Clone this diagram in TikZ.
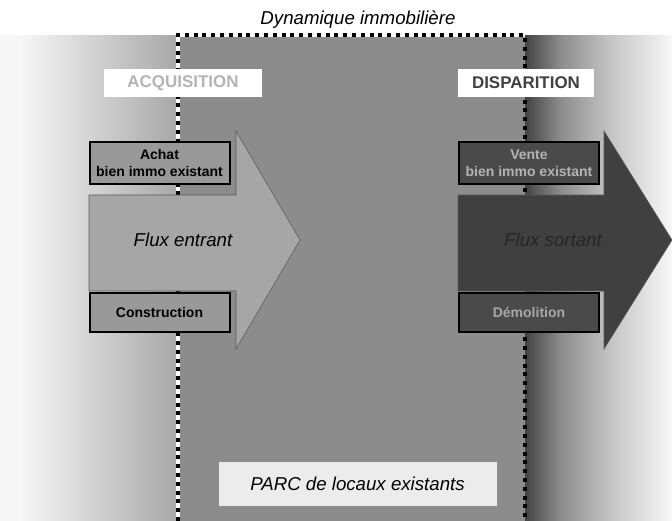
\documentclass[tikz,border=0pt]{standalone}
\usepackage{fontspec}
\setmainfont{Liberation Sans}

\definecolor{fondparc}{HTML}{8C8C8C}
\definecolor{bordgauche}{HTML}{A8A8A8}
\definecolor{borddroit}{HTML}{444444}
\definecolor{droitmilieu}{HTML}{8C8C8C}
\definecolor{droitclair}{HTML}{C4C4C4}
\definecolor{fondclair}{HTML}{F7F7F7}
\definecolor{fluxin}{HTML}{A6A6A6}
\definecolor{boitein}{HTML}{999999}
\definecolor{fluxout}{HTML}{404040}
\definecolor{boiteout}{HTML}{4A4A4A}
\definecolor{texteclair}{HTML}{B4B4B4}
\definecolor{textegris}{HTML}{A8A8A8}
\definecolor{parcfond}{HTML}{ECECEC}

\begin{document}
\begin{tikzpicture}[x=0.75pt,y=-0.75pt,
        etape/.style={draw=black,line width=1.5pt,align=center,inner sep=0pt,
            font=\bfseries\fontsize{10.5}{12.5}\selectfont,
            minimum width=105pt,minimum height=32pt},
        phase/.style={fill=white,inner sep=0pt,minimum height=21pt,
            font=\bfseries\fontsize{12.7}{14}\selectfont},
        flux/.style={draw=black!65,line width=0.4pt},
        pointille/.style={line width=3pt,dash pattern=on 3pt off 3.6pt}]
        \useasboundingbox (0,0) rectangle (672,521);

        % fond
        \fill[white] (0,0) rectangle (672,521);
        \fill[fondclair] (0,35) rectangle (20,521);
        \shade[left color=fondclair,right color=bordgauche] (20,35) rectangle (178,521);
        \shade[left color=borddroit,right color=droitmilieu] (525,35) rectangle (560,521);
        \shade[left color=droitmilieu,right color=droitclair] (560,35) rectangle (610,521);
        \shade[left color=droitclair,right color=fondclair] (610,35) rectangle (672,521);
        \fill[fondparc] (178,35) rectangle (525,521);
        \draw[white,line width=3pt] (178,521) -- (178,35) -- (525,35);
        \draw[pointille] (178,521) -- (178,35) -- (525,35) -- (525,521);
        \node[font=\itshape\fontsize{14}{16}\selectfont] (titre) at (358,20) {Dynamique immobilière};

        % fleches
        \foreach \xa/\xb/\xc/\coul in {89/236/300/fluxin,458/604/672/fluxout}
            {\filldraw[flux,fill=\coul] (\xa,195) -- (\xb,195) -- (\xb,131) -- (\xc,240)
                -- (\xb,349) -- (\xb,291) -- (\xa,291) -- cycle;}
        \node[font=\itshape\fontsize{14}{16}\selectfont] (entrant) at (183,240) {Flux entrant};
        \node[font=\itshape\fontsize{14}{16}\selectfont,text=black!85] (sortant) at (553,240) {Flux sortant};

        % phases
        \node[phase,minimum width=118.5pt,text=texteclair] (acquisition) at (183,83) {ACQUISITION};
        \node[phase,minimum width=102pt,text=fluxout] (disparition) at (526,83) {DISPARITION};

        % etapes
        \node[etape,fill=boitein] (achat) at (159.5,163) {Achat\\bien immo existant};
        \node[etape,fill=boitein,minimum height=29.5pt] (construction) at (159.5,312.5) {Construction};
        \node[etape,fill=boiteout,text=texteclair] (vente) at (529,163) {Vente\\bien immo existant};
        \node[etape,fill=boiteout,text=textegris,minimum height=29.5pt] (demolition) at (529,312.5) {Démolition};

        % parc
        \node[draw=black!45,fill=parcfond,minimum width=209pt,minimum height=33.5pt,
            font=\itshape\fontsize{14}{16}\selectfont] (parc) at (357.5,483.5) {PARC de locaux existants};
    \end{tikzpicture}
\end{document}
